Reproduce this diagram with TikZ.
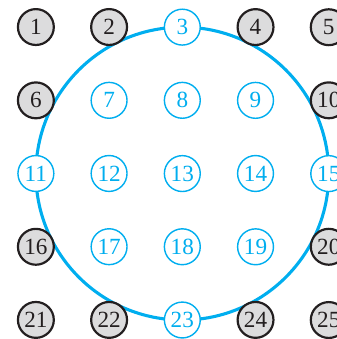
\documentclass[tikz,border=0pt]{standalone}
\usepackage{fontspec}
\setmainfont{Liberation Serif}
\usepackage{xcolor}
\usepackage{tikz}
\usetikzlibrary{matrix,backgrounds}
\definecolor{ringcyan}{HTML}{00AEEF}
\definecolor{softgray}{HTML}{DCDCDD}
\definecolor{darkink}{HTML}{231F20}
\tikzset{
  outnode/.style={circle, draw=darkink, fill=softgray, line width=0.85pt, text=darkink, minimum size=0.49cm, inner sep=0pt, font=\fontsize{9}{10}\selectfont},
  innode/.style={circle, draw=ringcyan, fill=white, line width=0.55pt, text=ringcyan, minimum size=0.49cm, inner sep=0pt, font=\fontsize{9}{10}\selectfont},
  ring/.style={draw=ringcyan, line width=1.2pt}
}
\begin{document}
\begin{tikzpicture}
  \useasboundingbox (-2.49,-2.26) rectangle (2.11,2.37);
  \matrix (g) at (0,0) [matrix of nodes, nodes={outnode}, column sep={1cm,between origins}, row sep={1cm,between origins}] {
    1 & 2 & |[innode]| 3 & 4 & 5 \\
    6 & |[innode]| 7 & |[innode]| 8 & |[innode]| 9 & 10 \\
    |[innode]| 11 & |[innode]| 12 & |[innode]| 13 & |[innode]| 14 & |[innode]| 15 \\
    16 & |[innode]| 17 & |[innode]| 18 & |[innode]| 19 & 20 \\
    21 & 22 & |[innode]| 23 & 24 & 25 \\
  };
  \begin{scope}[on background layer]
    \draw[ring] (g-3-3.center) circle[radius=2cm];
  \end{scope}
\end{tikzpicture}
\end{document}
